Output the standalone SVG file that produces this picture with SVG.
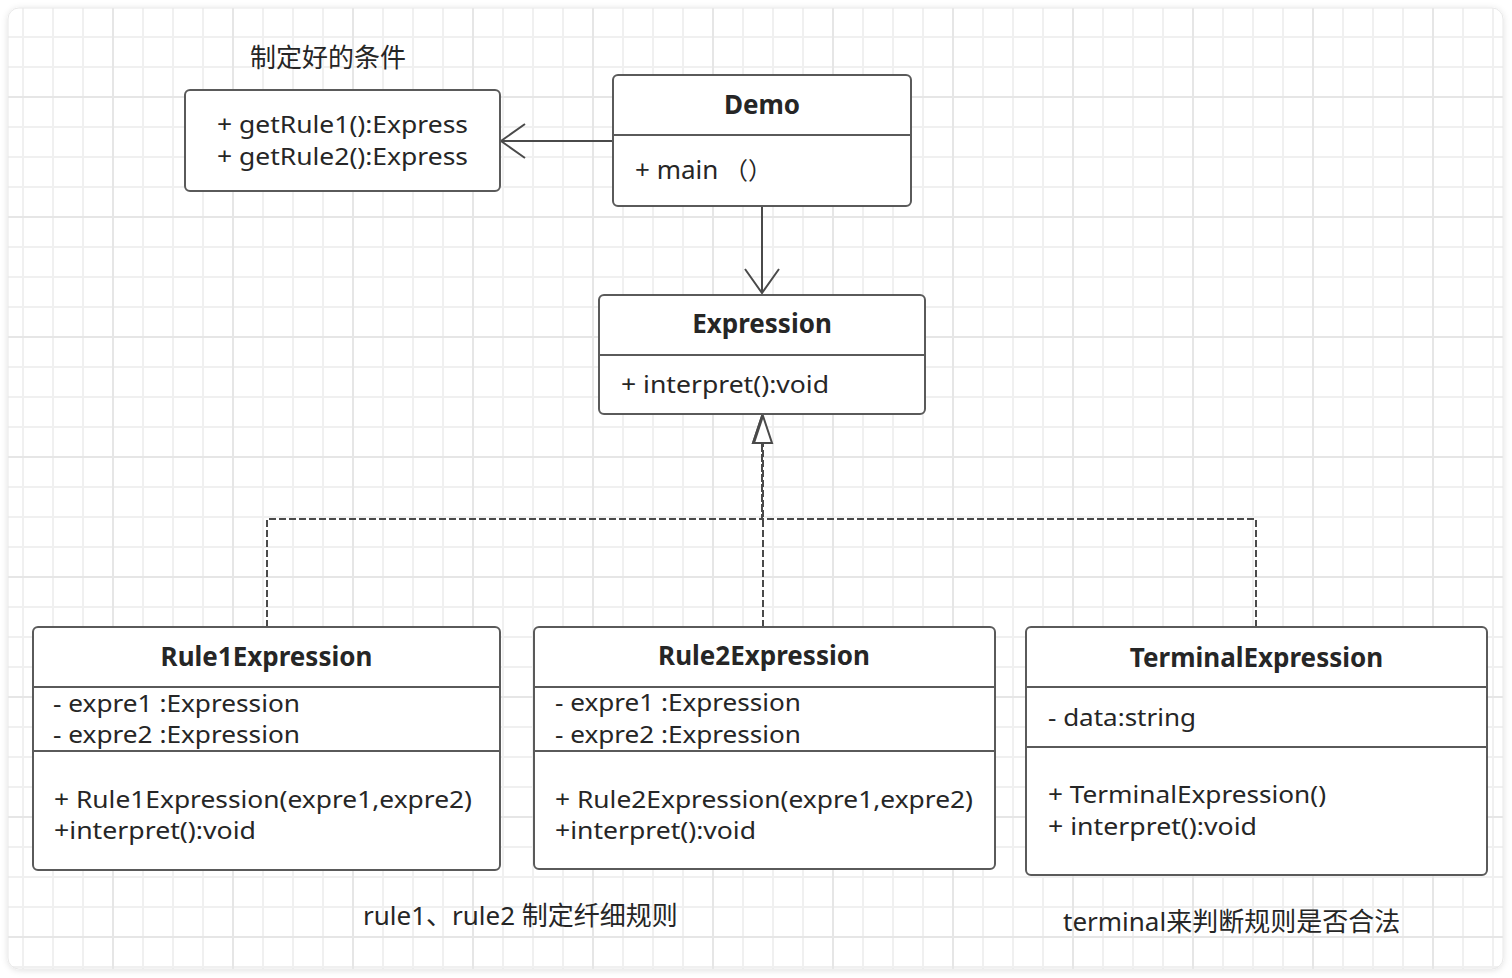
<svg xmlns="http://www.w3.org/2000/svg" width="1512" height="978" viewBox="0 0 1512 978">
<style>
text{font-family:"Noto Sans","Noto Sans CJK SC",sans-serif;fill:#262626;font-size:26px}
.m{font-size:24px}
.t{font-weight:bold;text-anchor:middle}
.box{fill:#fff;stroke:#5a5a5a;stroke-width:2}
.div{stroke:#5a5a5a;stroke-width:2}
.conn{fill:none;stroke:#4a4a4a;stroke-width:2}
.dash{fill:none;stroke:#4a4a4a;stroke-width:2;stroke-dasharray:7 3}
</style>
<defs>
<pattern id="grid" patternUnits="userSpaceOnUse" x="-8" y="-24" width="120" height="120">
<rect x="0" y="0" width="120" height="120" fill="#fff"/>
<rect x="30" y="0" width="2" height="120" fill="#f0f0f0"/>
<rect x="60" y="0" width="2" height="120" fill="#f0f0f0"/>
<rect x="90" y="0" width="2" height="120" fill="#f0f0f0"/>
<rect x="0" y="30" width="120" height="2" fill="#f0f0f0"/>
<rect x="0" y="60" width="120" height="2" fill="#f0f0f0"/>
<rect x="0" y="90" width="120" height="2" fill="#f0f0f0"/>
<rect x="0" y="0" width="2" height="120" fill="#e6e6e6"/>
<rect x="0" y="0" width="120" height="2" fill="#e6e6e6"/>
</pattern>
<filter id="sh" x="-5%" y="-5%" width="110%" height="110%">
<feDropShadow dx="0" dy="1" stdDeviation="3" flood-color="#000" flood-opacity="0.12"/>
</filter>
<marker id="open" markerUnits="userSpaceOnUse" viewBox="-30 -20 34 40" refX="0" refY="0" markerWidth="34" markerHeight="40" orient="auto">
<path d="M-24,-17 L0,0 L-24,17" fill="none" stroke="#4a4a4a" stroke-width="2"/>
</marker>
<marker id="tri" markerUnits="userSpaceOnUse" viewBox="-2 -12 32 24" refX="0" refY="0" markerWidth="32" markerHeight="24" orient="auto">
<path d="M0,-9 L27,0 L0,9 Z" fill="#fff" stroke="#4a4a4a" stroke-width="2"/>
</marker>
</defs>
<rect width="1512" height="978" fill="#fff"/>
<rect x="8" y="8" width="1495" height="961" rx="11" fill="url(#grid)" stroke="#e8e8e8" stroke-width="1" filter="url(#sh)"/>

<text x="250" y="67">制定好的条件</text>
<text x="363" y="925">rule1、rule2 制定纤细规则</text>
<text x="1063" y="931">terminal来判断规则是否合法</text>

<g id="connectors">
<path class="conn" d="M613,141 H501" marker-end="url(#open)"/>
<path class="conn" d="M762,206 V293" marker-end="url(#open)"/>
<path class="dash" d="M267,627 V519 H762 V443" marker-end="url(#tri)"/>
<path class="dash" d="M1256,627 V519 H762 V443" marker-end="url(#tri)"/>
<path class="dash" d="M763,627 V443" marker-end="url(#tri)"/>
</g>

<g id="conditions">
<rect class="box" x="185" y="90" width="315" height="101" rx="5"/>
<text class="m" x="217" y="133" textLength="251" lengthAdjust="spacingAndGlyphs">+ getRule1():Express</text>
<text class="m" x="217" y="165" textLength="251" lengthAdjust="spacingAndGlyphs">+ getRule2():Express</text>
</g>

<g id="demo">
<rect class="box" x="613" y="75" width="298" height="131" rx="5"/>
<line class="div" x1="613" y1="135" x2="911" y2="135"/>
<text class="t" x="762" y="114">Demo</text>
<text x="635" y="179">+ main<tspan class="m" x="724">（）</tspan></text>
</g>

<g id="expression">
<rect class="box" x="599" y="295" width="326" height="119" rx="5"/>
<line class="div" x1="599" y1="355" x2="925" y2="355"/>
<text class="t" x="762" y="333">Expression</text>
<text class="m" x="621" y="393" textLength="208" lengthAdjust="spacingAndGlyphs">+ interpret():void</text>
</g>

<g id="rule1">
<rect class="box" x="33" y="627" width="467" height="243" rx="5"/>
<line class="div" x1="33" y1="687" x2="500" y2="687"/>
<line class="div" x1="33" y1="751" x2="500" y2="751"/>
<text class="t" x="266.5" y="666">Rule1Expression</text>
<text class="m" x="53" y="712" textLength="247" lengthAdjust="spacingAndGlyphs">- expre1 :Expression</text>
<text class="m" x="53" y="743" textLength="247" lengthAdjust="spacingAndGlyphs">- expre2 :Expression</text>
<text class="m" x="54" y="808" textLength="418" lengthAdjust="spacingAndGlyphs">+ Rule1Expression(expre1,expre2)</text>
<text class="m" x="54" y="839" textLength="202" lengthAdjust="spacingAndGlyphs">+interpret():void</text>
</g>

<g id="rule2">
<rect class="box" x="534" y="627" width="461" height="242" rx="5"/>
<line class="div" x1="534" y1="687" x2="995" y2="687"/>
<line class="div" x1="534" y1="751" x2="995" y2="751"/>
<text class="t" x="764" y="665">Rule2Expression</text>
<text class="m" x="555" y="711" textLength="246" lengthAdjust="spacingAndGlyphs">- expre1 :Expression</text>
<text class="m" x="555" y="743" textLength="246" lengthAdjust="spacingAndGlyphs">- expre2 :Expression</text>
<text class="m" x="555" y="808" textLength="418" lengthAdjust="spacingAndGlyphs">+ Rule2Expression(expre1,expre2)</text>
<text class="m" x="555" y="839" textLength="201" lengthAdjust="spacingAndGlyphs">+interpret():void</text>
</g>

<g id="terminal">
<rect class="box" x="1026" y="627" width="461" height="248" rx="5"/>
<line class="div" x1="1026" y1="687" x2="1487" y2="687"/>
<line class="div" x1="1026" y1="747" x2="1487" y2="747"/>
<text class="t" x="1256.5" y="667">TerminalExpression</text>
<text class="m" x="1048" y="726" textLength="148" lengthAdjust="spacingAndGlyphs">- data:string</text>
<text class="m" x="1048" y="803" textLength="278" lengthAdjust="spacingAndGlyphs">+ TerminalExpression()</text>
<text class="m" x="1048" y="835" textLength="209" lengthAdjust="spacingAndGlyphs">+ interpret():void</text>
</g>
</svg>
